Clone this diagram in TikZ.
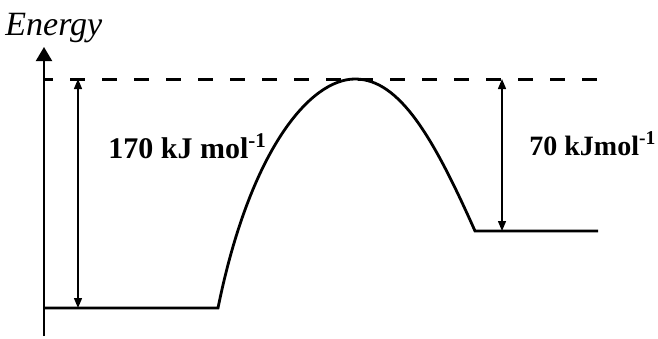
\documentclass[tikz,border=0pt]{standalone}
\usepackage{fontspec}
\setmainfont{Liberation Serif}
\usetikzlibrary{
    arrows.meta,
    positioning
}

\begin{document}
\begin{tikzpicture}[
    x=0.5pt,
    y=-0.5pt,
    profile/.style={
        line width=1.4pt,
        line join=miter
    },
    gap/.style={
        {Triangle[length=5pt,width=4pt]}-{Triangle[length=5pt,width=4pt]},
        line width=0.7pt
    },
    amount/.style={
        font=\fontsize{14}{16}\selectfont\bfseries,
        anchor=base west,
        inner sep=0pt
    }
]
%
    \useasboundingbox (0,0) rectangle (658,338);
%
    \coordinate (origin) at (44,336);
    \coordinate (axistop) at (44,47);
    \coordinate (tsleft) at (44,79);
    \coordinate (tsright) at (600,79);
    \coordinate (reactL) at (44,308);
    \coordinate (reactR) at (218,308);
    \coordinate (peak) at (355,79);
    \coordinate (prodL) at (475,231);
    \coordinate (prodR) at (598,231);
    \coordinate (upA) at (78,79);
    \coordinate (downA) at (78,308);
    \coordinate (upB) at (502,79);
    \coordinate (downB) at (502,231);
%
    \draw[
        -{Triangle[length=7pt,width=8pt]},
        line width=1pt
    ]
    (origin)
    --
    (axistop);
%
    \node[
        font=\fontsize{17}{20}\selectfont\itshape,
        anchor=base west,
        inner sep=0pt
    ] (energy) at (5,35) {Energy};
%
    \draw[
        line width=1.5pt,
        dash pattern=on 7.5pt off 8.5pt,
        dash phase=3pt
    ]
    (tsleft)
    --
    (tsright);
%
    \draw[
        profile
    ]
    (reactL)
    --
    (reactR)
    .. controls (250,150) and (310,79) ..
    (peak)
    .. controls (400,79) and (434,139) ..
    (prodL)
    --
    (prodR);
%
    \draw[gap] (upA) -- (downA);
    \draw[gap] (upB) -- (downB);
%
    \node[
        amount,
        font=\fontsize{15}{17}\selectfont\bfseries
    ] (ea) at (108,158) {170 kJ mol\textsuperscript{-1}};
    \node[amount] (dh) at (529,155) {70 kJmol\textsuperscript{-1}};
%
\end{tikzpicture}
\end{document}
